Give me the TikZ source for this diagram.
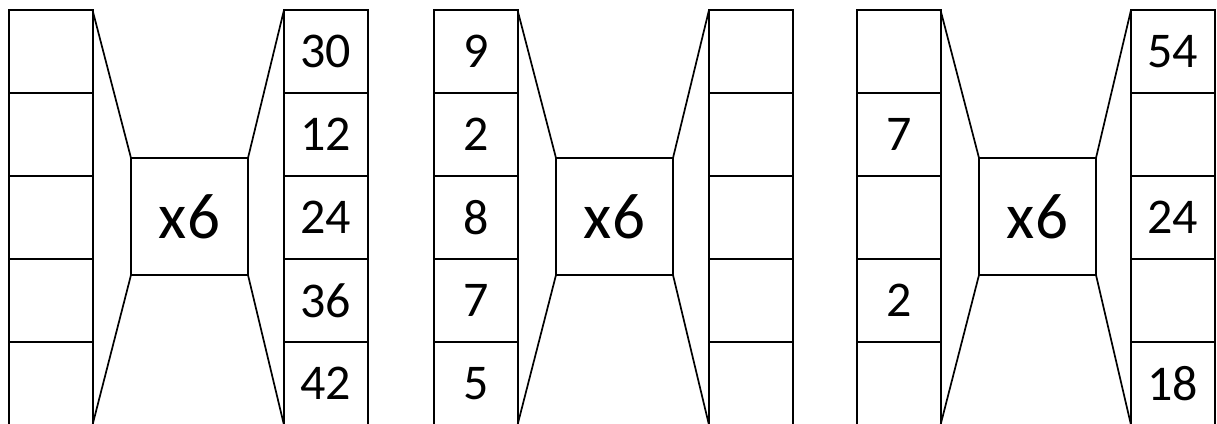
\documentclass[tikz,border=0pt]{standalone}
\usepackage{fontspec}
\setmainfont{Carlito}
\newcommand\drawgroup[6]{%
  % #1 prefix, #2 left x, #3 box x, #4 right x, #5 left labels, #6 right labels
  \foreach \t [count=\i] in {#5} {
    \node[cell] (#1l\i) at (#2,{10+83*(\i-1)}) {\t};
  }
  \foreach \t [count=\i] in {#6} {
    \node[cell] (#1r\i) at (#4,{10+83*(\i-1)}) {\t};
  }
  \node[mult] (#1c) at (#3,158) {x6};
  \draw[link] (#1l1.north east) -- (#1c.north west);
  \draw[link] (#1l5.south east) -- (#1c.south west);
  \draw[link] (#1c.north east) -- (#1r1.north west);
  \draw[link] (#1c.south east) -- (#1r5.south west);
}
\begin{document}
\begin{tikzpicture}[x=1pt,y=-1pt,
  cell/.style={draw, line width=2pt, minimum width=83.5pt, minimum height=83pt,
    inner sep=0pt, outer sep=0pt, anchor=north west, font=\fontsize{50}{50}\selectfont},
  mult/.style={draw, line width=2pt, minimum width=117pt, minimum height=117pt,
    inner sep=0pt, outer sep=0pt, anchor=north west, font=\fontsize{65}{65}\selectfont},
  link/.style={line width=1.7pt}]
\useasboundingbox[fill=white] (0,0) rectangle (1217,423);
\drawgroup{a}{9}{131}{284}{{},{},{},{},{}}{30,12,24,36,42}
\drawgroup{b}{434}{556}{709}{9,2,8,7,5}{{},{},{},{},{}}
\drawgroup{c}{857}{979}{1131}{{},7,{},2,{}}{54,{},24,{},18}
\end{tikzpicture}
\end{document}
